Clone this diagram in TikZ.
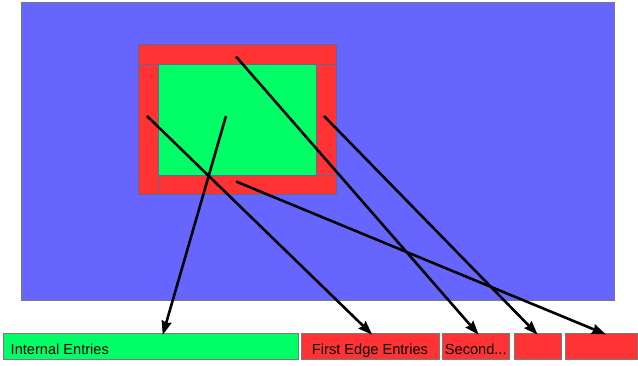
\documentclass[tikz,border=0pt]{standalone}
\usepackage{fontspec}
\setmainfont{Liberation Sans}
\usetikzlibrary{arrows.meta,calc}
\definecolor{bgblue}{HTML}{6666FF}
\definecolor{fred}{HTML}{FF3333}
\definecolor{fgreen}{HTML}{00FF66}
\definecolor{edgegray}{HTML}{7A7A7A}
\definecolor{stripedge}{HTML}{5A6A99}
\tikzset{
  area/.style={draw=edgegray, line width=1pt, anchor=north west, inner sep=0pt, outer sep=0pt},
  strip/.style={draw=stripedge, line width=0.8pt, fill=fred, anchor=north west, inner sep=0pt, outer sep=0pt},
  entry/.style={draw=edgegray, line width=1pt, anchor=north west, inner sep=0pt, outer sep=0pt, minimum height=26pt, font=\fontsize{14.6pt}{16pt}\selectfont},
  link/.style={line width=2.6pt, -{Stealth[length=14pt,width=10pt,inset=1.5pt]}, shorten >=-1pt}
}
\begin{document}
\begin{tikzpicture}[x=1pt,y=-1pt]
\useasboundingbox (0,0) rectangle (638,366);
% background area
\node[area, fill=bgblue, minimum width=593pt, minimum height=298pt] (bg) at (21,2.5) {};
% frame
\node[strip, fill=fgreen, minimum width=158pt, minimum height=111pt] (inner) at (158,64) {};
\node[strip, minimum width=197.5pt, minimum height=20pt] (top) at (138.5,44.5) {};
\node[strip, minimum width=20pt, minimum height=129.5pt] (left) at (138.5,64.5) {};
\node[strip, minimum width=20pt, minimum height=111pt] (right) at (316,64.5) {};
\node[strip, minimum width=177.5pt, minimum height=19pt] (bottom) at (158.5,175.5) {};
% entries
\node[entry, fill=fgreen, minimum width=294.5pt] (e1) at (3.5,334) {};
\node[anchor=west, inner sep=0pt, font=\fontsize{14.6pt}{16pt}\selectfont] (t1) at ($(e1.west)+(7,2)$) {Internal Entries};
\node[entry, fill=fred, minimum width=138pt] (e2) at (301,334) {};
\node[anchor=center, inner sep=0pt, font=\fontsize{14.6pt}{16pt}\selectfont] (t2) at ($(e2.center)+(0,4)$) {First Edge Entries};
\node[entry, fill=fred, minimum width=66.5pt] (e3) at (442.5,334) {};
\node[anchor=center, inner sep=0pt, font=\fontsize{14.6pt}{16pt}\selectfont] (t3) at ($(e3.center)+(0,2)$) {Second...};
\node[entry, fill=fred, minimum width=47pt] (e4) at (514.5,334) {};
\node[entry, fill=fred, minimum width=72pt] (e5) at (565,334) {};
% start points
\coordinate (s1) at (226,116);
\coordinate (s2) at (147,116);
\coordinate (s3) at (236,56.5);
\coordinate (s4) at (324,116);
\coordinate (s5) at (236,181.5);
\coordinate (d1) at (163,334);
\coordinate (d2) at (371.5,334);
\coordinate (d3) at (478,334);
\coordinate (d4) at (537,334);
\coordinate (d5) at (605,334);
\draw[link] (s1) -- (d1);
\draw[link] (s2) -- (d2);
\draw[link] (s3) -- (d3);
\draw[link] (s4) -- (d4);
\draw[link] (s5) -- (d5);
\end{tikzpicture}
\end{document}
